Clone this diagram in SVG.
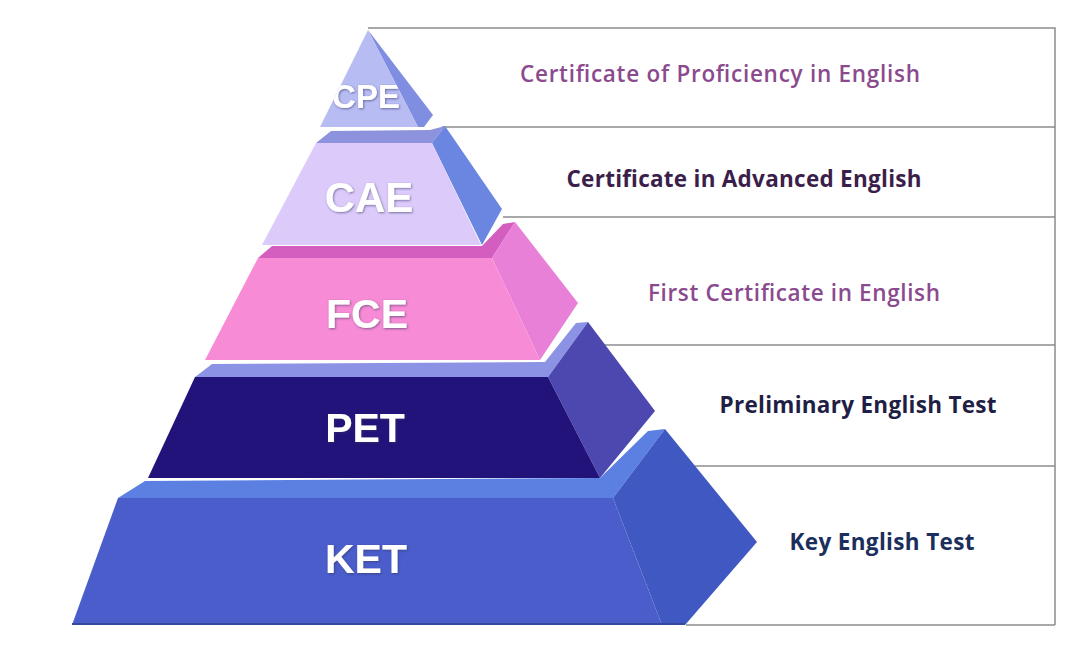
<svg xmlns="http://www.w3.org/2000/svg" width="1080" height="649" viewBox="0 0 1080 649">
<style>
.lbl{font-family:"Liberation Sans",Arial,sans-serif;font-weight:700;fill:#ffffff;text-anchor:middle;}
.desc{font-family:"Open Sans","Noto Sans",sans-serif;text-anchor:middle;font-size:22.5px;}
.tl{stroke:#8c8c8c;stroke-width:1.5;fill:none;}
</style>
<defs>
<filter id="sh" x="-10%" y="-10%" width="120%" height="130%">
<feDropShadow dx="0.8" dy="1" stdDeviation="0.8" flood-color="#303060" flood-opacity="0.6"/>
</filter>
<clipPath id="cpeClip"><polygon points="368,30 418,127 320,127"/></clipPath>
</defs>
<rect width="1080" height="649" fill="#ffffff"/>

<g id="connectors">
<polyline class="tl" points="368,28 1055,28 1055,625"/>
<line class="tl" x1="442" y1="127" x2="1055" y2="127"/>
<line class="tl" x1="503" y1="217" x2="1055" y2="217"/>
<line class="tl" x1="604" y1="345" x2="1055" y2="345"/>
<line class="tl" x1="695" y1="466" x2="1055" y2="466"/>
<line class="tl" x1="686" y1="625" x2="1055" y2="625"/>
</g>

<g id="ket">
<polygon points="118,498 145,481 600,478 648,431 665,429 613,498" fill="#5b80e2"/>
<polygon points="613,498 665,429 757,542 685,625 662,625" fill="#3f58c2"/>
<polygon points="118,498 613,498 662,625 72,625" fill="#4a5dcb"/>
<line x1="72" y1="624" x2="685" y2="624" stroke="#34489f" stroke-width="2"/>
<text class="lbl" x="366" y="573" font-size="41" filter="url(#sh)">KET</text>
</g>

<g id="pet">
<polygon points="195,377 212,364 545,362 576,323 588,322 548,377" fill="#8d93e4"/>
<polygon points="548,377 588,322 655,411 600,478" fill="#4c48b0"/>
<polygon points="195,377 548,377 600,478 148,478" fill="#22137a"/>
<text class="lbl" x="365" y="442" font-size="41" filter="url(#sh)">PET</text>
</g>

<g id="fce">
<polygon points="258,258 272,246 482,246 503,224 515,222 492,258" fill="#d45ec0"/>
<polygon points="492,258 515,222 578,303 540,360" fill="#e880d8"/>
<polygon points="258,258 492,258 540,360 205,360" fill="#f78bd6"/>
<text class="lbl" x="367" y="328" font-size="41" filter="url(#sh)">FCE</text>
</g>

<g id="cae">
<polygon points="316,143 331,131 430,130 445,126 432,143" fill="#8c92dc"/>
<polygon points="432,143 445,126 502,209 482,245" fill="#6b86e0"/>
<polygon points="316,143 432,143 481,245 262,245" fill="#dccbfa"/>
<text class="lbl" x="369" y="212" font-size="42" filter="url(#sh)">CAE</text>
</g>

<g id="cpe">
<polygon points="368,30 433,115 424,127 418,127" fill="#7f8ee0"/>
<polygon points="368,30 418,127 320,127" fill="#b7bcf3"/>
<g clip-path="url(#cpeClip)">
<text class="lbl" x="366" y="108" font-size="33" filter="url(#sh)">CPE</text>
</g>
</g>

<g id="descriptions">
<text class="desc" x="720" y="82" fill="#8b4a8e" font-weight="600" textLength="400" lengthAdjust="spacing">Certificate of Proficiency in English</text>
<text class="desc" x="744" y="187" fill="#3b1f4a" font-weight="700" textLength="355" lengthAdjust="spacing">Certificate in Advanced English</text>
<text class="desc" x="794" y="301" fill="#8b4a8e" font-weight="600" textLength="292" lengthAdjust="spacing">First Certificate in English</text>
<text class="desc" x="858" y="413" fill="#1f1f45" font-weight="700" textLength="277" lengthAdjust="spacing">Preliminary English Test</text>
<text class="desc" x="882" y="550" fill="#1b2f5c" font-weight="700" textLength="185" lengthAdjust="spacing">Key English Test</text>
</g>
</svg>
